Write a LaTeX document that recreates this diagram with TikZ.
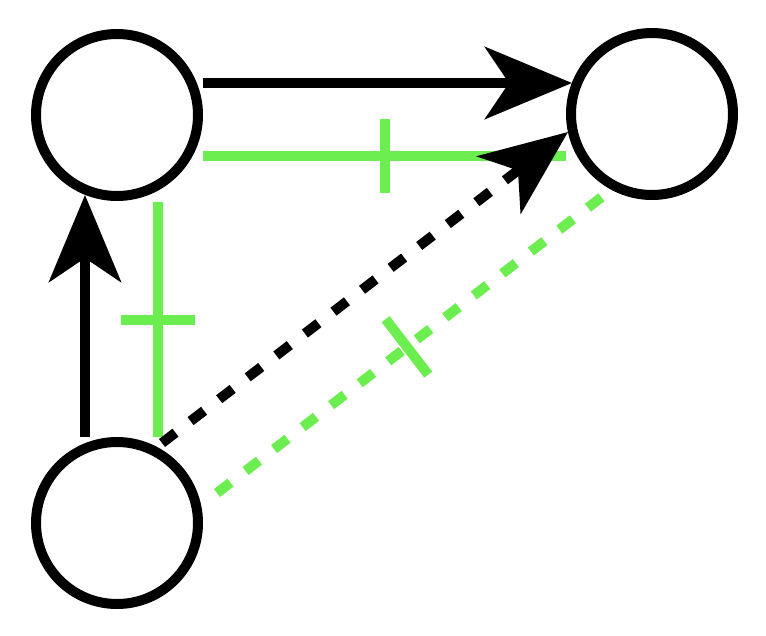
\documentclass[tikz,border=0pt]{standalone}
\usetikzlibrary{arrows.meta,calc}
\definecolor{lgreen}{RGB}{108,238,80}
\begin{document}
\begin{tikzpicture}[x=1pt,y=-1pt,
  vert/.style={circle,draw=black,line width=10pt,minimum size=162pt,inner sep=0pt,fill=white},
  blk/.style={draw=black,line width=10pt},
  grn/.style={draw=lgreen,line width=10pt},
  dsh/.style={dash pattern=on 17pt off 19pt},
  bigtip/.style={-{Stealth[length=87pt,width=72pt,inset=24pt]}}]
\useasboundingbox (0,0) rectangle (766,635);
\node[vert] (A) at (117,115) {};
\node[vert] (B) at (652,114) {};
\node[vert] (C) at (117,523) {};
% horizontal pair
\draw[blk,bigtip] ($(A)+(86,-32)$) -- ($(B)+(-80,-31)$);
\draw[grn] ($(A)+(86,41)$) -- coordinate[pos=.5] (m1) ($(B)+(-86,42)$);
\draw[grn] ($(m1)+(0,-37)$) -- ($(m1)+(0,37)$);
% vertical pair
\draw[blk,bigtip] ($(C)+(-32,-86)$) -- ($(A)+(-32,80)$);
\draw[grn] ($(A)+(41,87)$) -- coordinate[pos=.5] (m2) ($(C)+(41,-86)$);
\draw[grn] ($(m2)+(-37,0)$) -- ($(m2)+(37,0)$);
% diagonal pair
\draw[blk,dsh,bigtip] ($(C)+(45,-80)$) -- ($(B)+(-84,18)$);
\coordinate (g1) at ($(C)+(100,-30)$);
\coordinate (g2) at ($(B)+(-45,79)$);
\draw[grn,dsh] (g1) -- coordinate[pos=.487] (m3) (g2);
\draw[grn] ($(m3)!35pt!90:(g2)$) -- ($(m3)!35pt!-90:(g2)$);
\end{tikzpicture}
\end{document}
